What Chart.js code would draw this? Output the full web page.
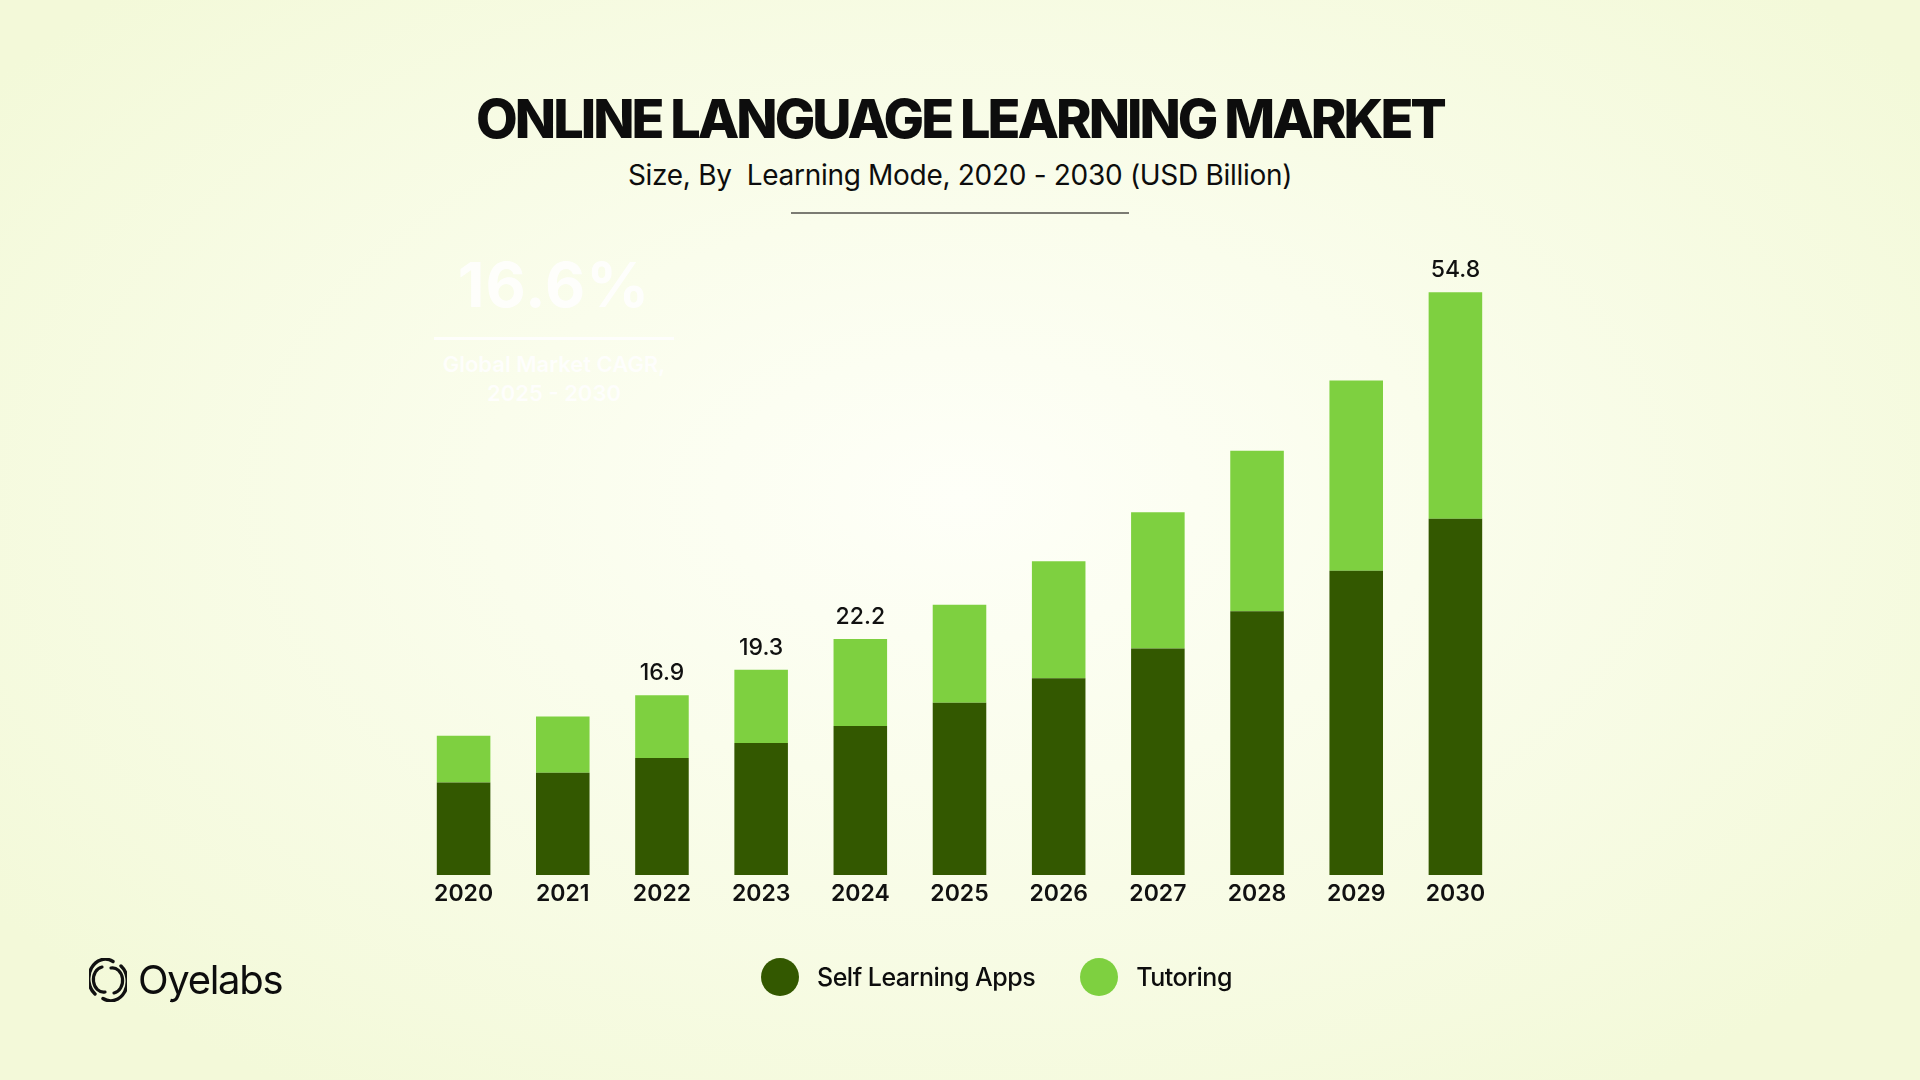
<!DOCTYPE html>
<html>
<head>
<meta charset="utf-8">
<title>Online Language Learning Market</title>
<script src="https://cdn.jsdelivr.net/npm/chart.js@4.4.1/dist/chart.umd.min.js"></script>
<style>
  html, body { margin: 0; padding: 0; }
  body {
    width: 1920px; height: 1080px; overflow: hidden; position: relative;
    font-family: Inter, "Noto Sans", sans-serif; color: #0d0d0d;
    background: radial-gradient(ellipse 62% 66% at 50% 46%, #fefff8 0%, #fafdec 40%, #f3f9d9 100%);
  }
  #chartWrap { position: absolute; left: 0; top: 0; width: 1920px; height: 1080px; }
  .title {
    position: absolute; left: 0; width: 1920px; text-align: center;
    top: 92px; font-size: 54px; line-height: 54px; font-weight: 800; letter-spacing: -3px;
  }
  .subtitle {
    position: absolute; left: 0; width: 1920px; text-align: center;
    top: 161px; font-size: 28px; line-height: 28px; font-weight: 400; letter-spacing: -0.3px;
  }
  .divider { position: absolute; left: 791px; top: 212px; width: 338px; height: 2px; background: #7b7b73; }
  .cagr { position: absolute; left: 434px; width: 240px; text-align: center; color: #ffffff; opacity: 0.85; }
  .cagr .big { position: absolute; left: 0; width: 240px; top: 254px; font-size: 62px; line-height: 62px; font-weight: 700; letter-spacing: 1px; }
  .cagr .rule { position: absolute; left: 0; top: 337px; width: 240px; height: 3px; background: #ffffff; }
  .cagr .small { position: absolute; left: 0; width: 240px; top: 350px; font-size: 22px; line-height: 29px; font-weight: 600; }
  .legend { position: absolute; top: 958px; left: 761px; height: 38px; display: flex; align-items: center; }
  .legend .item { display: flex; align-items: center; }
  .legend .dot { width: 38px; height: 38px; border-radius: 50%; }
  .legend .txt { font-size: 25px; font-weight: 500; letter-spacing: -0.5px; margin-left: 18px; }
  .logo { position: absolute; left: 89px; top: 958px; display: flex; align-items: center; }
  .logo .name { font-size: 40px; line-height: 44px; font-weight: 400; letter-spacing: -1.3px; margin-left: 11px; }
</style>
</head>
<body>
<div class="title">ONLINE LANGUAGE LEARNING MARKET</div>
<div class="subtitle">Size, By&nbsp; Learning Mode, 2020 - 2030 (USD Billion)</div>
<div class="divider"></div>

<div class="cagr">
  <div class="big">16.6%</div>
  <div class="rule"></div>
  <div class="small">Global Market CAGR,<br>2025 - 2030</div>
</div>

<div id="chartWrap"><canvas id="myChart" width="1920" height="1080"></canvas></div>

<div class="legend" id="legend"></div>

<div class="logo">
  <svg width="38" height="44" viewBox="0 0 38 44">
    <!-- dış halka, iki boşluklu -->
    <path d="M24 3.5 A16.5 19.5 0 0 0 6 36" fill="none" stroke="#111" stroke-width="3.4" stroke-linecap="round"/>
    <path d="M14 40.5 A16.5 19.5 0 0 0 32 8" fill="none" stroke="#111" stroke-width="3.4" stroke-linecap="round"/>
    <!-- iç yaylar -->
    <path d="M13 9 A10 12.5 0 0 0 16 34" fill="none" stroke="#111" stroke-width="3.2" stroke-linecap="round"/>
    <path d="M25 35 A10 12.5 0 0 0 22 10" fill="none" stroke="#111" stroke-width="3.2" stroke-linecap="round"/>
  </svg>
  <span class="name">Oyelabs</span>
</div>

<script>
// Veriler (USD milyar)
const years = ['2020', '2021', '2022', '2023', '2024', '2025', '2026', '2027', '2028', '2029', '2030'];
const selfLearningApps = [8.7, 9.6, 11.0, 12.4, 14.0, 16.2, 18.5, 21.3, 24.8, 28.6, 33.5];
const tutoring = [4.4, 5.3, 5.9, 6.9, 8.2, 9.2, 11.0, 12.8, 15.1, 17.9, 21.3];
const labelledYears = ['2022', '2023', '2024', '2030'];

const seriesNames = ['Self Learning Apps', 'Tutoring'];
const seriesColors = ['#335800', '#7ed040'];

// Toplam değerleri çubukların üstüne yaz
const totalLabels = {
    id: 'totalLabels',
    afterDatasetsDraw(chart) {
        const ctx = chart.ctx;
        const topMeta = chart.getDatasetMeta(chart.data.datasets.length - 1);
        ctx.save();
        ctx.font = '500 23px Inter';
        ctx.fillStyle = '#111111';
        ctx.textAlign = 'center';
        ctx.textBaseline = 'middle';
        years.forEach((year, i) => {
            if (!labelledYears.includes(year)) return;
            const total = selfLearningApps[i] + tutoring[i];
            const bar = topMeta.data[i];
            ctx.fillText(total.toFixed(1), bar.x, bar.y - 22);
        });
        ctx.restore();
    }
};

const ctx = document.getElementById('myChart').getContext('2d');

let myChart = new Chart(ctx, {
    type: 'bar',
    data: {
        labels: years,
        datasets: [{
            label: seriesNames[0],
            data: selfLearningApps,
            backgroundColor: seriesColors[0]
        }, {
            label: seriesNames[1],
            data: tutoring,
            backgroundColor: seriesColors[1]
        }]
    },
    options: {
        responsive: false,
        animation: false,
        barPercentage: 0.54,
        categoryPercentage: 1,
        layout: {
            padding: { left: 414, right: 415, top: 237, bottom: 167.5 }
        },
        plugins: {
            legend: { display: false },
            tooltip: { enabled: false }
        },
        scales: {
            x: {
                stacked: true,
                grid: { display: false, drawTicks: false },
                border: { display: false },
                ticks: {
                    color: '#111111',
                    padding: 5,
                    font: { family: 'Inter', size: 23, weight: '600' }
                }
            },
            y: {
                stacked: true,
                display: false,
                min: 0,
                max: 60
            }
        }
    },
    plugins: [totalLabels]
});

// Lejantı oluştur
const legendEl = document.getElementById('legend');
seriesNames.forEach((name, i) => {
    const item = document.createElement('div');
    item.className = 'item';
    if (i > 0) item.style.marginLeft = '45px';
    item.innerHTML = '<div class="dot" style="background:' + seriesColors[i] + '"></div><span class="txt">' + name + '</span>';
    legendEl.appendChild(item);
});
</script>
</body>
</html>
